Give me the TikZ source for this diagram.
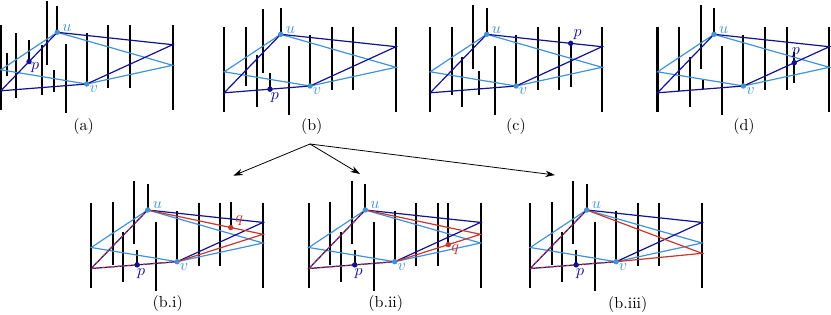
\documentclass[tikz,border=0pt]{standalone}
\usepackage{amsmath}
\usepackage{tikz}
\usetikzlibrary{arrows.meta,positioning,calc}

\definecolor{lightpath}{RGB}{66,146,218}
\definecolor{darkpath}{RGB}{18,18,145}
\definecolor{redpath}{RGB}{200,55,45}

% one panel: corner points relative to u, the bars, and the two quadrilaterals
\newcommand{\basepanel}[2]{%
  \coordinate (#1u) at (0,0);
  \coordinate (#1v) at (29.4,51.7);
  \coordinate (#1a) at (-56.5,37.5);
  \coordinate (#1b) at (-56.5,58.5);
  \coordinate (#1c) at (115.3,12.4);
  \coordinate (#1d) at (115.3,33);
  \foreach \x/\ya/\yb in {-56.5/-7.5/78, 0/-26.5/0, 8.3/11.5/80.5, 29.4/0.7/51.7,
                          51/-7.5/56, 72.6/-7.5/56, 115.3/-7.5/78, #2}
    \draw[bar] (\x,\ya) -- (\x,\yb);
  \draw[lightedge] (#1a) -- (#1u) -- (#1d) -- (#1v) -- cycle;
  \draw[darkedge] (#1b) -- (#1u) -- (#1c) -- (#1v) -- cycle;
}
% dots and labels of u and v
\newcommand{\markuv}[1]{%
  \fill[lightpath] (#1u) circle[radius=1.7pt];
  \fill[lightpath] (#1v) circle[radius=1.7pt];
  \node[lbl, text=lightpath] (#1ul) at ([shift={(9.7,-4.7)}]#1u) {$u$};
  \node[lbl, text=lightpath] (#1vl) at ([shift={(7,5.5)}]#1v) {$v$};
}

\begin{document}
\begin{tikzpicture}[
    x=0.625pt, y=-0.625pt,
    font=\normalsize,
    bar/.style={line width=1.3pt},
    lightedge/.style={draw=lightpath, line width=0.75pt},
    darkedge/.style={draw=darkpath, line width=0.75pt},
    rededge/.style={draw=redpath, line width=0.75pt},
    reddash/.style={draw=redpath, line width=0.75pt, dash pattern=on 1.6pt off 1.6pt},
    lbl/.style={inner sep=0pt, font=\normalsize},
    caption/.style={inner sep=0pt, font=\normalsize},
    arrow/.style={-{Stealth[length=6pt,width=4pt]}, line width=0.5pt}
]
\useasboundingbox (0,0) rectangle (831,314);

% (a)
\begin{scope}[shift={(57.3,32.3)}]
  \basepanel{a}{-50/20.7/43.7, -41.3/0.7/65.7, -28.25/7.7/29.25, -15.6/12.7/62.7, -10/-31.3/32.7, -3.3/37.7/59.7}
  \coordinate (ap) at ($(ab)!0.5!(au)$);
  \markuv{a}
  \fill[darkpath] (ap) circle[radius=1.7pt];
  \node[lbl, text=darkpath] (apl) at ([shift={(6,6)}]ap) {$p$};
\end{scope}

% (b)
\begin{scope}[shift={(280.7,34.3)}]
  \basepanel{b}{-35/-7.3/51.7, -24/20.7/72.7, -17.4/-25.3/38.7, -10.7/38.7/54.9}
  \coordinate (bp) at ($(bb)!0.533!(bv)$);
  \markuv{b}
  \fill[darkpath] (bp) circle[radius=1.7pt];
  \node[lbl, text=darkpath] (bpl) at ([shift={(5,8.5)}]bp) {$p$};
\end{scope}

% (c)
\begin{scope}[shift={(486.7,34.3)}]
  \basepanel{c}{-35/-7.3/60.7, -24.4/22.7/72.7, -14/-29.3/34.7, -7.4/36.7/60.7, 84/9/53}
  \coordinate (cp) at ($(cu)!0.7285!(cc)$);
  \markuv{c}
  \fill[darkpath] (cp) circle[radius=1.7pt];
  \node[lbl, text=darkpath] (cpl) at ([shift={(7,-9)}]cp) {$p$};
\end{scope}

% (d)
\begin{scope}[shift={(714,34.3)}]
  \basepanel{d}{-34.7/-7.3/56.4, -24/22.7/72.7, -13/-29.3/34.7, -10.7/44.7/54.7, 80.3/18/49}
  \coordinate (dp) at ($(dv)!0.593!(dc)$);
  \markuv{d}
  \fill[darkpath] (dp) circle[radius=1.7pt];
  \node[lbl, text=darkpath] (dpl) at ([shift={(1.5,-10.5)}]dp) {$p$};
\end{scope}

% (b.i)
\begin{scope}[shift={(147.7,210)}]
  \basepanel{bi}{-35/-7.7/55, -24.4/22.3/72.3, -13.4/-29.3/34, -10.5/40/54.9, 83/-8/17.5}
  \coordinate (bir) at (115.3,24.3);
  \draw[rededge] (biu) -- (bir) -- (biv);
  \draw[reddash] (biu) -- (bib) -- (biv);
  \coordinate (bip) at ($(bib)!0.535!(biv)$);
  \coordinate (biq) at ($(biu)!0.72!(bir)$);
  \markuv{bi}
  \fill[darkpath] (bip) circle[radius=1.7pt];
  \fill[redpath] (biq) circle[radius=1.7pt];
  \node[lbl, text=darkpath] (bipl) at ([shift={(4,9)}]bip) {$p$};
  \node[lbl, text=redpath] (biql) at ([shift={(8.5,-7)}]biq) {$q$};
\end{scope}

% (b.ii)
\begin{scope}[shift={(365.3,210)}]
  \basepanel{bii}{-35/-7.7/55, -24.4/22.3/72.3, -13.4/-29.3/34, -10.5/40/54.9, 83/-6.7/34.6}
  \coordinate (biir) at (115.3,24.3);
  \draw[rededge] (biiu) -- (biir) -- (biiv);
  \draw[reddash] (biiu) -- (biib) -- (biiv);
  \coordinate (biip) at ($(biib)!0.535!(biiv)$);
  \coordinate (biiq) at ($(biiv)!0.624!(biir)$);
  \markuv{bii}
  \fill[darkpath] (biip) circle[radius=1.7pt];
  \fill[redpath] (biiq) circle[radius=1.7pt];
  \node[lbl, text=darkpath] (biipl) at ([shift={(4,9)}]biip) {$p$};
  \node[lbl, text=redpath] (biiql) at ([shift={(7,4.5)}]biiq) {$q$};
\end{scope}

% (b.iii)
\begin{scope}[shift={(586.7,210)}]
  \basepanel{biii}{-35/-7.7/55, -24.4/22.3/72.3, -13.4/-29.3/34, -10.5/40/54.9}
  \coordinate (biiir) at (115.3,43.3);
  \draw[rededge] (biiiu) -- (biiir) -- (biiiv);
  \draw[reddash] (biiiu) -- (biiib) -- (biiiv);
  \coordinate (biiip) at ($(biiib)!0.535!(biiiv)$);
  \markuv{biii}
  \fill[darkpath] (biiip) circle[radius=1.7pt];
  \node[lbl, text=darkpath] (biiipl) at ([shift={(4,9)}]biiip) {$p$};
\end{scope}

% captions
\node[caption] (capa) at (83.7,126) {(a)};
\node[caption] (capb) at (311.7,126.5) {(b)};
\node[caption] (capc) at (516,126) {(c)};
\node[caption] (capd) at (744,126) {(d)};
\node[caption] (capbi) at (167.7,303.3) {(b.i)};
\node[caption] (capbii) at (385.8,303.5) {(b.ii)};
\node[caption] (capbiii) at (627.8,304) {(b.iii)};

% arrows from (b) to its three cases
\coordinate (fork) at (310,144);
\coordinate (tobi) at (233.3,175.7);
\coordinate (tobii) at (360,174);
\coordinate (tobiii) at (555,175);
\foreach \t in {tobi,tobii,tobiii}
  \draw[arrow] (fork) -- (\t);
\end{tikzpicture}
\end{document}
